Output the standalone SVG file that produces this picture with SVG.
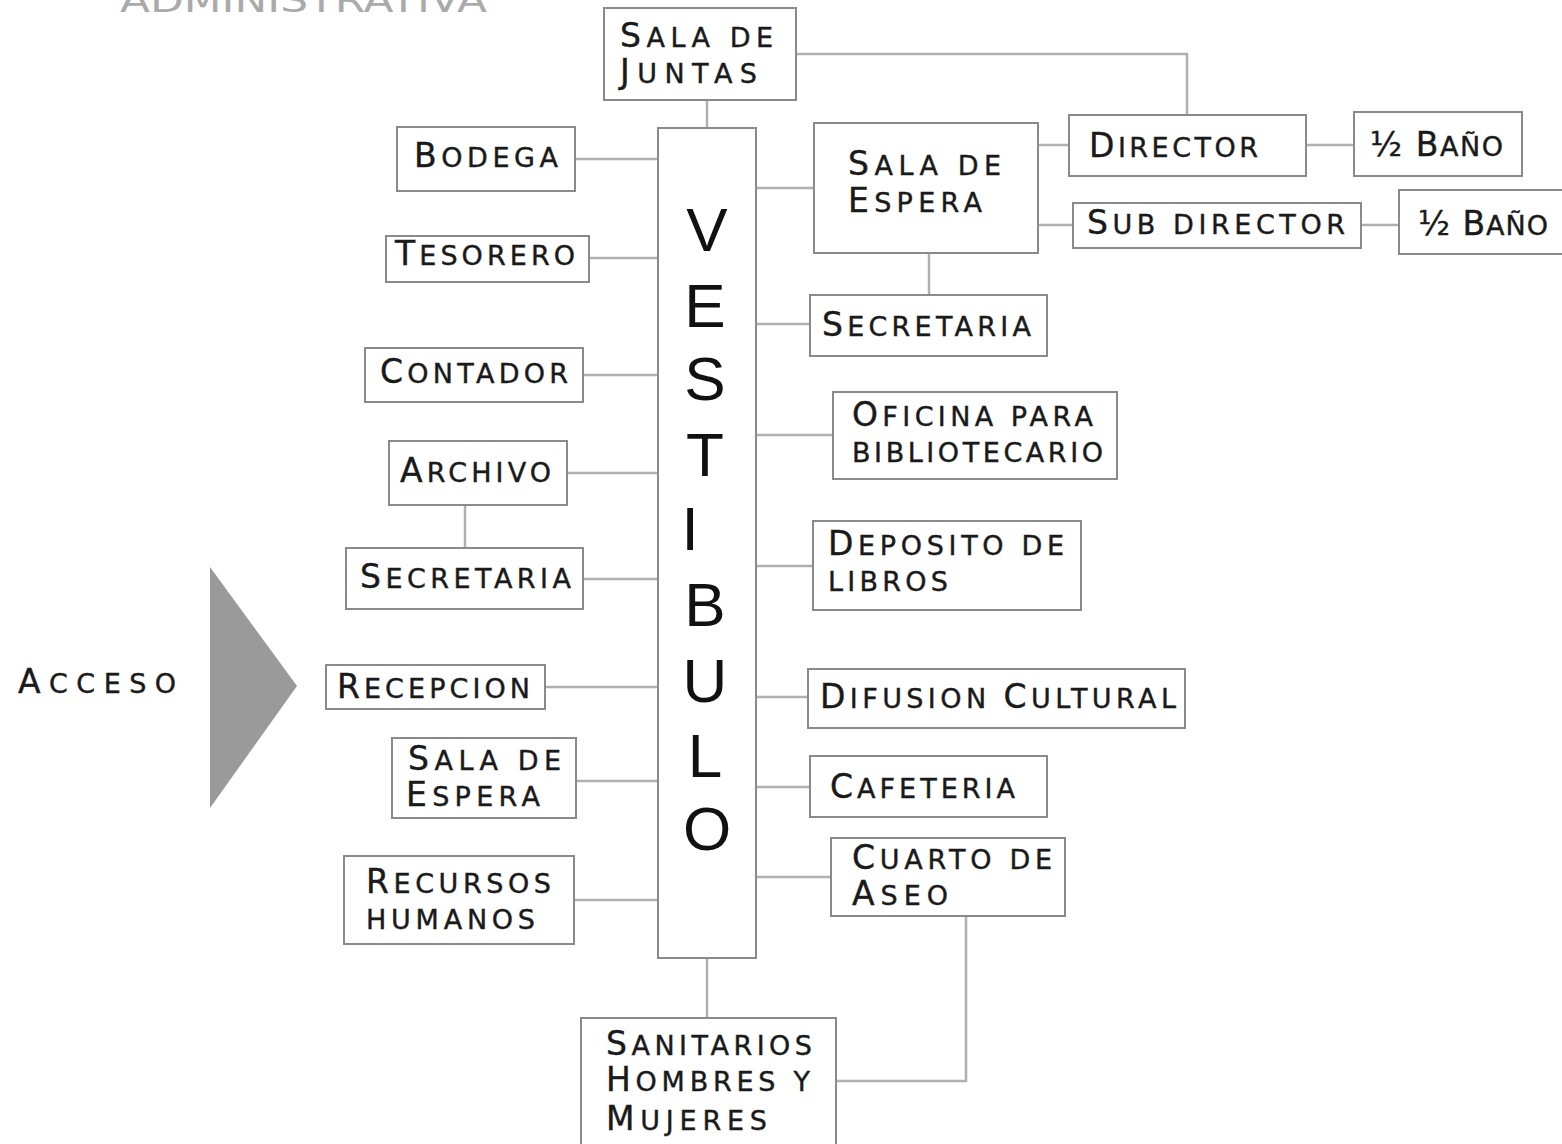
<svg xmlns="http://www.w3.org/2000/svg" width="1562" height="1144" viewBox="0 0 1562 1144">
<style>
.box{fill:#fff;stroke:#8a8a8a;stroke-width:2}
.ln{fill:none;stroke:#b0b0b0;stroke-width:2.5}
.t{font-family:"DejaVu Sans","Liberation Sans",sans-serif;font-size:27px;fill:#1a1a1a;stroke:#1a1a1a;stroke-width:0.4}
.c{font-size:33px}
.v{font-family:"Liberation Sans",sans-serif;font-size:62px;fill:#111;text-anchor:middle}
</style>
<rect width="1562" height="1144" fill="#fff"/>
<text x="120" y="12" style="font-family:'DejaVu Sans',sans-serif;font-size:33px;fill:#aaa" textLength="367" lengthAdjust="spacingAndGlyphs">ADMINISTRATIVA</text>

<g id="connectors">
<path class="ln" d="M707 100V128"/>
<path class="ln" d="M796 54H1187V115"/>
<path class="ln" d="M575 159H658"/>
<path class="ln" d="M589 258H658"/>
<path class="ln" d="M583 375H658"/>
<path class="ln" d="M567 473H658"/>
<path class="ln" d="M465 505V548"/>
<path class="ln" d="M583 579H658"/>
<path class="ln" d="M545 687H658"/>
<path class="ln" d="M576 781H658"/>
<path class="ln" d="M574 900H658"/>
<path class="ln" d="M707 958V1018"/>
<path class="ln" d="M756 188H814"/>
<path class="ln" d="M1038 145H1069"/>
<path class="ln" d="M1038 225H1073"/>
<path class="ln" d="M1306 145H1354"/>
<path class="ln" d="M1361 225H1399"/>
<path class="ln" d="M929 253V295"/>
<path class="ln" d="M756 324H810"/>
<path class="ln" d="M756 435H833"/>
<path class="ln" d="M756 566H813"/>
<path class="ln" d="M756 697H808"/>
<path class="ln" d="M756 787H810"/>
<path class="ln" d="M756 877H831"/>
<path class="ln" d="M966 916V1081H836"/>
</g>

<g id="acceso">
<text x="18" y="693" class="t" textLength="158" lengthAdjust="spacing"><tspan class="c">A</tspan>CCESO</text>
<polygon points="210,567 297,686 210,808" fill="#9a9a9a"/>
</g>

<g id="vestibulo">
<rect class="box" x="658" y="128" width="98" height="830"/>
<text class="v" x="707" y="251">V</text>
<text class="v" x="705" y="327">E</text>
<text class="v" x="705" y="400">S</text>
<text class="v" x="705" y="476">T</text>
<text class="v" x="690" y="550">I</text>
<text class="v" x="705" y="626">B</text>
<text class="v" x="705" y="702">U</text>
<text class="v" x="705" y="777">L</text>
<text class="v" x="707" y="850">O</text>
</g>

<g id="sala-juntas">
<rect class="box" x="604" y="8" width="192" height="92"/>
<text class="t" x="620" y="47" textLength="153" lengthAdjust="spacing"><tspan class="c">S</tspan>ALA DE</text>
<text class="t" x="620" y="83" textLength="137" lengthAdjust="spacing"><tspan class="c">J</tspan>UNTAS</text>
</g>
<g id="bodega">
<rect class="box" x="397" y="127" width="178" height="64"/>
<text class="t" x="414" y="167" textLength="144" lengthAdjust="spacing"><tspan class="c">B</tspan>ODEGA</text>
</g>
<g id="tesorero">
<rect class="box" x="386" y="236" width="203" height="46"/>
<text class="t" x="395" y="265" textLength="180" lengthAdjust="spacing"><tspan class="c">T</tspan>ESORERO</text>
</g>
<g id="contador">
<rect class="box" x="365" y="348" width="218" height="54"/>
<text class="t" x="380" y="383" textLength="188" lengthAdjust="spacing"><tspan class="c">C</tspan>ONTADOR</text>
</g>
<g id="archivo">
<rect class="box" x="389" y="441" width="178" height="64"/>
<text class="t" x="400" y="482" textLength="151" lengthAdjust="spacing"><tspan class="c">A</tspan>RCHIVO</text>
</g>
<g id="secretaria-izq">
<rect class="box" x="346" y="548" width="237" height="61"/>
<text class="t" x="360" y="588" textLength="211" lengthAdjust="spacing"><tspan class="c">S</tspan>ECRETARIA</text>
</g>
<g id="recepcion">
<rect class="box" x="326" y="665" width="219" height="44"/>
<text class="t" x="337" y="698" textLength="193" lengthAdjust="spacing"><tspan class="c">R</tspan>ECEPCION</text>
</g>
<g id="sala-espera-izq">
<rect class="box" x="392" y="738" width="184" height="80"/>
<text class="t" x="408" y="770" textLength="153" lengthAdjust="spacing"><tspan class="c">S</tspan>ALA DE</text>
<text class="t" x="406" y="806" textLength="134" lengthAdjust="spacing"><tspan class="c">E</tspan>SPERA</text>
</g>
<g id="recursos-humanos">
<rect class="box" x="344" y="856" width="230" height="88"/>
<text class="t" x="366" y="893" textLength="185" lengthAdjust="spacing"><tspan class="c">R</tspan>ECURSOS</text>
<text class="t" x="366" y="929" textLength="169" lengthAdjust="spacing">HUMANOS</text>
</g>
<g id="sanitarios">
<rect class="box" x="581" y="1018" width="255" height="132"/>
<text class="t" x="606" y="1055" textLength="206" lengthAdjust="spacing"><tspan class="c">S</tspan>ANITARIOS</text>
<text class="t" x="606" y="1091" textLength="204" lengthAdjust="spacing"><tspan class="c">H</tspan>OMBRES Y</text>
<text class="t" x="606" y="1130" textLength="161" lengthAdjust="spacing"><tspan class="c">M</tspan>UJERES</text>
</g>

<g id="sala-espera-der">
<rect class="box" x="814" y="123" width="224" height="130"/>
<text class="t" x="848" y="175" textLength="153" lengthAdjust="spacing"><tspan class="c">S</tspan>ALA DE</text>
<text class="t" x="848" y="212" textLength="134" lengthAdjust="spacing"><tspan class="c">E</tspan>SPERA</text>
</g>
<g id="director">
<rect class="box" x="1069" y="115" width="237" height="61"/>
<text class="t" x="1089" y="157" textLength="169" lengthAdjust="spacing"><tspan class="c">D</tspan>IRECTOR</text>
</g>
<g id="bano-1">
<rect class="box" x="1354" y="112" width="168" height="64"/>
<text class="t" x="1370" y="156" textLength="133" lengthAdjust="spacing"><tspan class="c">½ B</tspan>AÑO</text>
</g>
<g id="sub-director">
<rect class="box" x="1073" y="203" width="288" height="45"/>
<text class="t" x="1087" y="234" textLength="258" lengthAdjust="spacing"><tspan class="c">S</tspan>UB DIRECTOR</text>
</g>
<g id="bano-2">
<rect class="box" x="1399" y="190" width="170" height="64"/>
<text class="t" x="1418" y="235" textLength="130" lengthAdjust="spacing"><tspan class="c">½ B</tspan>AÑO</text>
</g>
<g id="secretaria-der">
<rect class="box" x="810" y="295" width="237" height="61"/>
<text class="t" x="822" y="336" textLength="209" lengthAdjust="spacing"><tspan class="c">S</tspan>ECRETARIA</text>
</g>
<g id="oficina-bibliotecario">
<rect class="box" x="833" y="392" width="284" height="87"/>
<text class="t" x="852" y="426" textLength="241" lengthAdjust="spacing"><tspan class="c">O</tspan>FICINA PARA</text>
<text class="t" x="852" y="462" textLength="251" lengthAdjust="spacing">BIBLIOTECARIO</text>
</g>
<g id="deposito-libros">
<rect class="box" x="813" y="521" width="268" height="89"/>
<text class="t" x="828" y="555" textLength="236" lengthAdjust="spacing"><tspan class="c">D</tspan>EPOSITO DE</text>
<text class="t" x="828" y="591" textLength="120" lengthAdjust="spacing">LIBROS</text>
</g>
<g id="difusion-cultural">
<rect class="box" x="808" y="669" width="377" height="59"/>
<text class="t" x="820" y="708" textLength="356" lengthAdjust="spacing"><tspan class="c">D</tspan>IFUSION <tspan class="c">C</tspan>ULTURAL</text>
</g>
<g id="cafeteria">
<rect class="box" x="810" y="756" width="237" height="61"/>
<text class="t" x="830" y="798" textLength="185" lengthAdjust="spacing"><tspan class="c">C</tspan>AFETERIA</text>
</g>
<g id="cuarto-aseo">
<rect class="box" x="831" y="838" width="234" height="78"/>
<text class="t" x="852" y="869" textLength="200" lengthAdjust="spacing"><tspan class="c">C</tspan>UARTO DE</text>
<text class="t" x="852" y="905" textLength="96" lengthAdjust="spacing"><tspan class="c">A</tspan>SEO</text>
</g>
</svg>
